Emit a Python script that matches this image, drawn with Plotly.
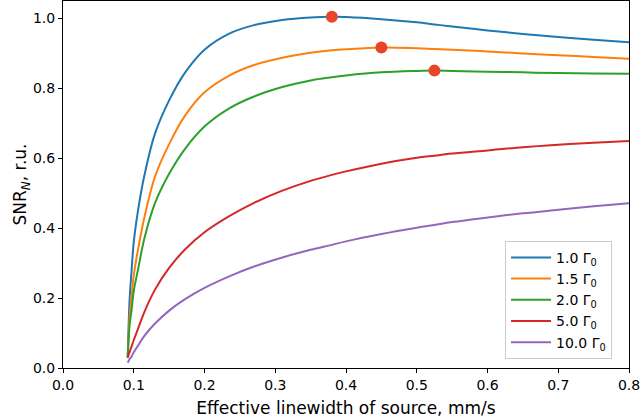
import plotly.graph_objects as go

# effective linewidth of source, mm/s
linewidth = [0.0915, 0.094, 0.097, 0.1, 0.106, 0.115, 0.13, 0.15, 0.172, 0.2, 0.235,
             0.27, 0.31, 0.35, 0.38, 0.4, 0.45, 0.5, 0.525, 0.55, 0.6, 0.65, 0.7, 0.75, 0.8]

snr_10 = [0.03, 0.19, 0.28, 0.36, 0.45, 0.55, 0.67, 0.765, 0.843, 0.91, 0.956,
          0.98, 0.995, 1.002, 1.004, 1.003, 0.997, 0.988, 0.982, 0.976, 0.965, 0.955, 0.946, 0.938, 0.931]
snr_15 = [0.03, 0.14, 0.205, 0.265, 0.338, 0.43, 0.547, 0.64, 0.72, 0.788, 0.836,
          0.866, 0.887, 0.901, 0.908, 0.911, 0.916, 0.914, 0.912, 0.91, 0.905, 0.899, 0.894, 0.889, 0.884]
snr_20 = [0.03, 0.12, 0.167, 0.22, 0.281, 0.37, 0.471, 0.555, 0.625, 0.69, 0.742,
          0.776, 0.803, 0.822, 0.831, 0.836, 0.845, 0.849, 0.85, 0.849, 0.847, 0.845, 0.843, 0.842, 0.841]
snr_50 = [0.03, 0.045, 0.062, 0.08, 0.112, 0.16, 0.224, 0.286, 0.338, 0.388, 0.434,
          0.472, 0.507, 0.535, 0.552, 0.562, 0.584, 0.601, 0.607, 0.613, 0.622, 0.631, 0.638, 0.644, 0.649]
snr_100 = [0.015, 0.025, 0.033, 0.045, 0.064, 0.092, 0.127, 0.164, 0.196, 0.229, 0.262,
           0.29, 0.316, 0.338, 0.352, 0.362, 0.383, 0.401, 0.409, 0.417, 0.43, 0.442, 0.452, 0.462, 0.471]

labels = ["1.0 Γ<sub>0</sub>", "1.5 Γ<sub>0</sub>", "2.0 Γ<sub>0</sub>",
          "5.0 Γ<sub>0</sub>", "10.0 Γ<sub>0</sub>"]
series = [snr_10, snr_15, snr_20, snr_50, snr_100]
colors = ["#1f77b4", "#ff7f0e", "#2ca02c", "#d62728", "#9467bd"]

# maxima marked on the first three curves
peak_x = [0.38, 0.45, 0.525]
peak_y = [1.004, 0.916, 0.85]

x_ticks = [0.0, 0.1, 0.2, 0.3, 0.4, 0.5, 0.6, 0.7, 0.8]
x_ticktext = ["0.0", "0.1", "0.2", "0.3", "0.4", "0.5", "0.6", "0.7", "0.8"]

fig = go.Figure()
for lab, ys, col in zip(labels, series, colors):
    fig.add_trace(go.Scatter(x=linewidth, y=ys, mode="lines", name=lab,
                             line=dict(color=col, width=2, shape="spline", smoothing=1.0)))

fig.add_trace(go.Scatter(x=peak_x, y=peak_y, mode="markers", showlegend=False,
                         marker=dict(color="#e8452a", size=12)))

axis_style = dict(showline=True, linecolor="black", linewidth=1, mirror=True,
                  ticks="outside", ticklen=4, tickcolor="black", showgrid=False,
                  zeroline=False, automargin=False, ticklabeloverflow="allow",
                  tickfont=dict(size=14, color="black"))

fig.update_layout(
    width=640, height=419,
    margin=dict(l=63, r=11, t=1, b=51),
    plot_bgcolor="white", paper_bgcolor="white",
    font=dict(family="DejaVu Sans", size=14, color="black"),
    xaxis=dict(range=[0, 0.8], tickvals=x_ticks, ticktext=x_ticktext,
               title=dict(text="Effective linewidth of source, mm/s", standoff=10), **axis_style),
    yaxis=dict(range=[0, 1.049], dtick=0.2, tickformat=".1f",
               title=dict(text="SNR<sub><i>N</i></sub>, r.u.", standoff=1), **axis_style),
    legend=dict(x=0.97, y=0.025, xanchor="right", yanchor="bottom",
                bordercolor="#cccccc", borderwidth=1, bgcolor="rgba(255,255,255,0.8)",
                itemwidth=40, font=dict(size=14)),
)

fig.write_html("out.html", config={"displayModeBar": False},
               post_script="document.body.style.margin='0';")
